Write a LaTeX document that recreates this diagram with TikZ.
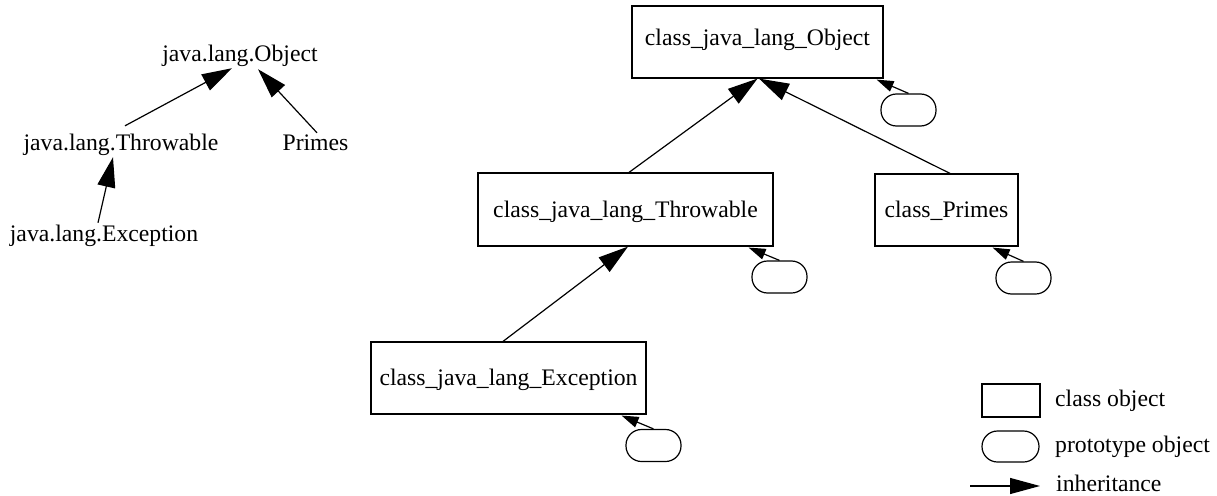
\documentclass[tikz,border=0pt]{standalone}
\usepackage{fontspec}
\setmainfont{Liberation Serif}
\usetikzlibrary{arrows.meta}
\begin{document}
\begin{tikzpicture}[x=1pt,y=-1pt,
  every node/.style={font=\fontsize{23.7}{28}\selectfont},
  lbl/.style={inner sep=0pt,anchor=base,text height=16pt,text depth=5pt},
  cls/.style={draw,line width=1.2pt,inner sep=0pt,text height=16pt,text depth=1pt},
  proto/.style={draw,line width=1.2pt,inner sep=0pt,minimum width=55pt,minimum height=32pt,rounded corners=15.5pt},
  inh/.style={line width=1.2pt,-{Triangle[length=30pt,width=18pt]}},
  pinh/.style={line width=1.2pt,-{Triangle[length=17pt,width=11pt]}},
  txt/.style={inner sep=0pt,anchor=base west}]
\useasboundingbox (0,0) rectangle (1217,495);
% left tree
\node[lbl] (lobj) at (240,61) {java.lang.Object};
\node[lbl] (lthr) at (121,150) {java.lang.Throwable};
\node[lbl] (lprm) at (315.5,150) {Primes};
\node[lbl] (lexc) at (104,241) {java.lang.Exception};
\draw[inh] ([shift={(4,-8)}]lthr.north) -- ([shift={(-8,2)}]lobj.south);
\draw[inh] ([shift={(1.5,-1)}]lprm.north) -- ([shift={(18,3)}]lobj.south);
\draw[inh] ([shift={(-6,-2)}]lexc.north) -- ([shift={(-8,2)}]lthr.south);
% right tree
\node[cls,minimum width=251pt,minimum height=72pt,text depth=8pt] (cobj) at (757.5,42) {class\_java\_lang\_Object};
\node[cls,minimum width=295pt,minimum height=73pt] (cthr) at (625.5,209.5) {class\_java\_lang\_Throwable};
\node[cls,minimum width=143pt,minimum height=72pt] (cprm) at (946.5,210) {class\_Primes};
\node[cls,minimum width=275pt,minimum height=72pt] (cexc) at (508.5,378) {class\_java\_lang\_Exception};
\node[proto] (pobj) at (908.5,110) {};
\node[proto] (pthr) at (779.5,277) {};
\node[proto] (pprm) at (1023.5,278) {};
\node[proto] (pexc) at (653.5,445.5) {};
\draw[inh] ([xshift=3.5pt]cthr.north) -- (cobj.south);
\draw[inh] ([xshift=3.5pt]cprm.north) -- ([shift={(1.5,0)}]cobj.south);
\draw[inh] ([shift={(-5.5,0)}]cexc.north) -- ([shift={(2.5,0)}]cthr.south);
\draw[pinh] (pobj.north) -- ([shift={(-7,1)}]cobj.south east);
\draw[pinh] (pthr.north) -- ([shift={(-25,1)}]cthr.south east);
\draw[pinh] (pprm.north) -- ([shift={(-26,1)}]cprm.south east);
\draw[pinh] (pexc.north) -- ([shift={(-25,1)}]cexc.south east);
% legend
\node[draw,line width=1.2pt,inner sep=0pt,minimum width=58pt,minimum height=33pt] (lgc) at (1011,400.5) {};
\node[proto,minimum width=57pt,minimum height=31pt] (lgp) at (1010.5,446.5) {};
\node[txt] (tc) at (1055,406) {class object};
\node[txt] (tp) at (1055,452) {prototype object};
\node[txt] (ti) at (1056,491) {inheritance};
\coordinate (la) at (970,486);
\coordinate (lb) at (1040,486);
\draw[line width=1.2pt,-{Triangle[length=30pt,width=16pt]}] (la) -- (lb);
\end{tikzpicture}
\end{document}
